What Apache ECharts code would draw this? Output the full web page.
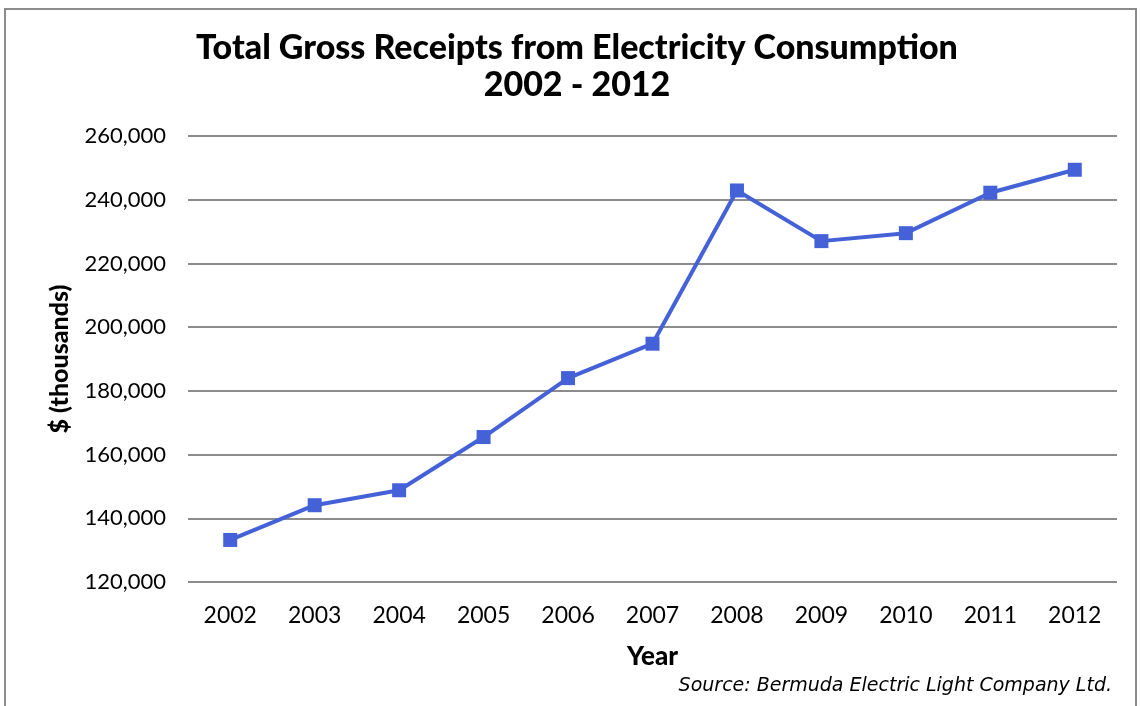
<!DOCTYPE html>
<html>
<head>
<meta charset="utf-8">
<script src="https://cdn.jsdelivr.net/npm/echarts@6/dist/echarts.min.js"></script>
<style>
  html, body { margin: 0; padding: 0; background: #fff; }
  #chart { width: 1140px; height: 706px; }
</style>
</head>
<body>
<div id="chart"></div>
<script>
// data
const years = ['2002', '2003', '2004', '2005', '2006', '2007', '2008', '2009', '2010', '2011', '2012']
const receipts = [133200, 144100, 148800, 165500, 184000, 194800, 242900, 227000, 229500, 242200, 249400]
const yTicks = { min: 120000, max: 260000, step: 20000 }

const myChart = echarts.init(document.getElementById('chart'))

let option = {
  animation: false,
  textStyle: { fontFamily: 'Lato' },
  title: {
    text: 'Total Gross Receipts from Electricity Consumption\n2002 - 2012',
    left: 572,
    top: 25,
    textAlign: 'center',
    textStyle: { fontSize: 34, fontWeight: 900, color: '#000', lineHeight: 37, fontFamily: 'Lato' },
  },
  grid: { left: 188, right: 23, top: 136, bottom: 124, containLabel: false },
  xAxis: {
    type: 'category',
    data: years,
    boundaryGap: true,
    axisLine: { show: false },
    axisTick: { show: false },
    axisLabel: { color: '#000', fontSize: 23, margin: 22 },
    name: 'Year',
    nameLocation: 'middle',
    nameGap: 62,
    nameTextStyle: { fontSize: 26, fontWeight: 900, color: '#000' },
  },
  yAxis: {
    type: 'value',
    min: yTicks.min,
    max: yTicks.max,
    interval: yTicks.step,
    axisLine: { show: false },
    axisTick: { show: false },
    axisLabel: {
      color: '#000',
      fontSize: 22,
      margin: 22,
      formatter: v => v.toLocaleString('en-US'),
    },
    splitLine: { lineStyle: { color: '#8c8c8c', width: 2 } },
    name: '$ (thousands)',
    nameLocation: 'middle',
    nameGap: 116,
    nameRotate: 90,
    nameTextStyle: { fontSize: 25, fontWeight: 900, color: '#000' },
  },
  graphic: [
    {
      type: 'polyline',
      shape: { points: [[5, 706], [5, 9], [1136, 9], [1136, 706]] },
      style: { stroke: '#8c8c8c', lineWidth: 2, fill: null },
    },
    {
      type: 'text',
      right: 28,
      top: 677,
      style: {
        text: 'Source: Bermuda Electric Light Company Ltd.',
        font: 'italic 19px "DejaVu Sans"',
        fill: '#000',
      },
    },
  ],
  series: [
    {
      type: 'line',
      data: receipts,
      symbol: 'rect',
      symbolSize: 14,
      lineStyle: { color: '#4561d8', width: 4 },
      itemStyle: { color: '#4561d8' },
    },
  ],
}
myChart.setOption(option)

window.addEventListener('resize', function () {
  myChart.resize()
})
</script>
</body>
</html>
